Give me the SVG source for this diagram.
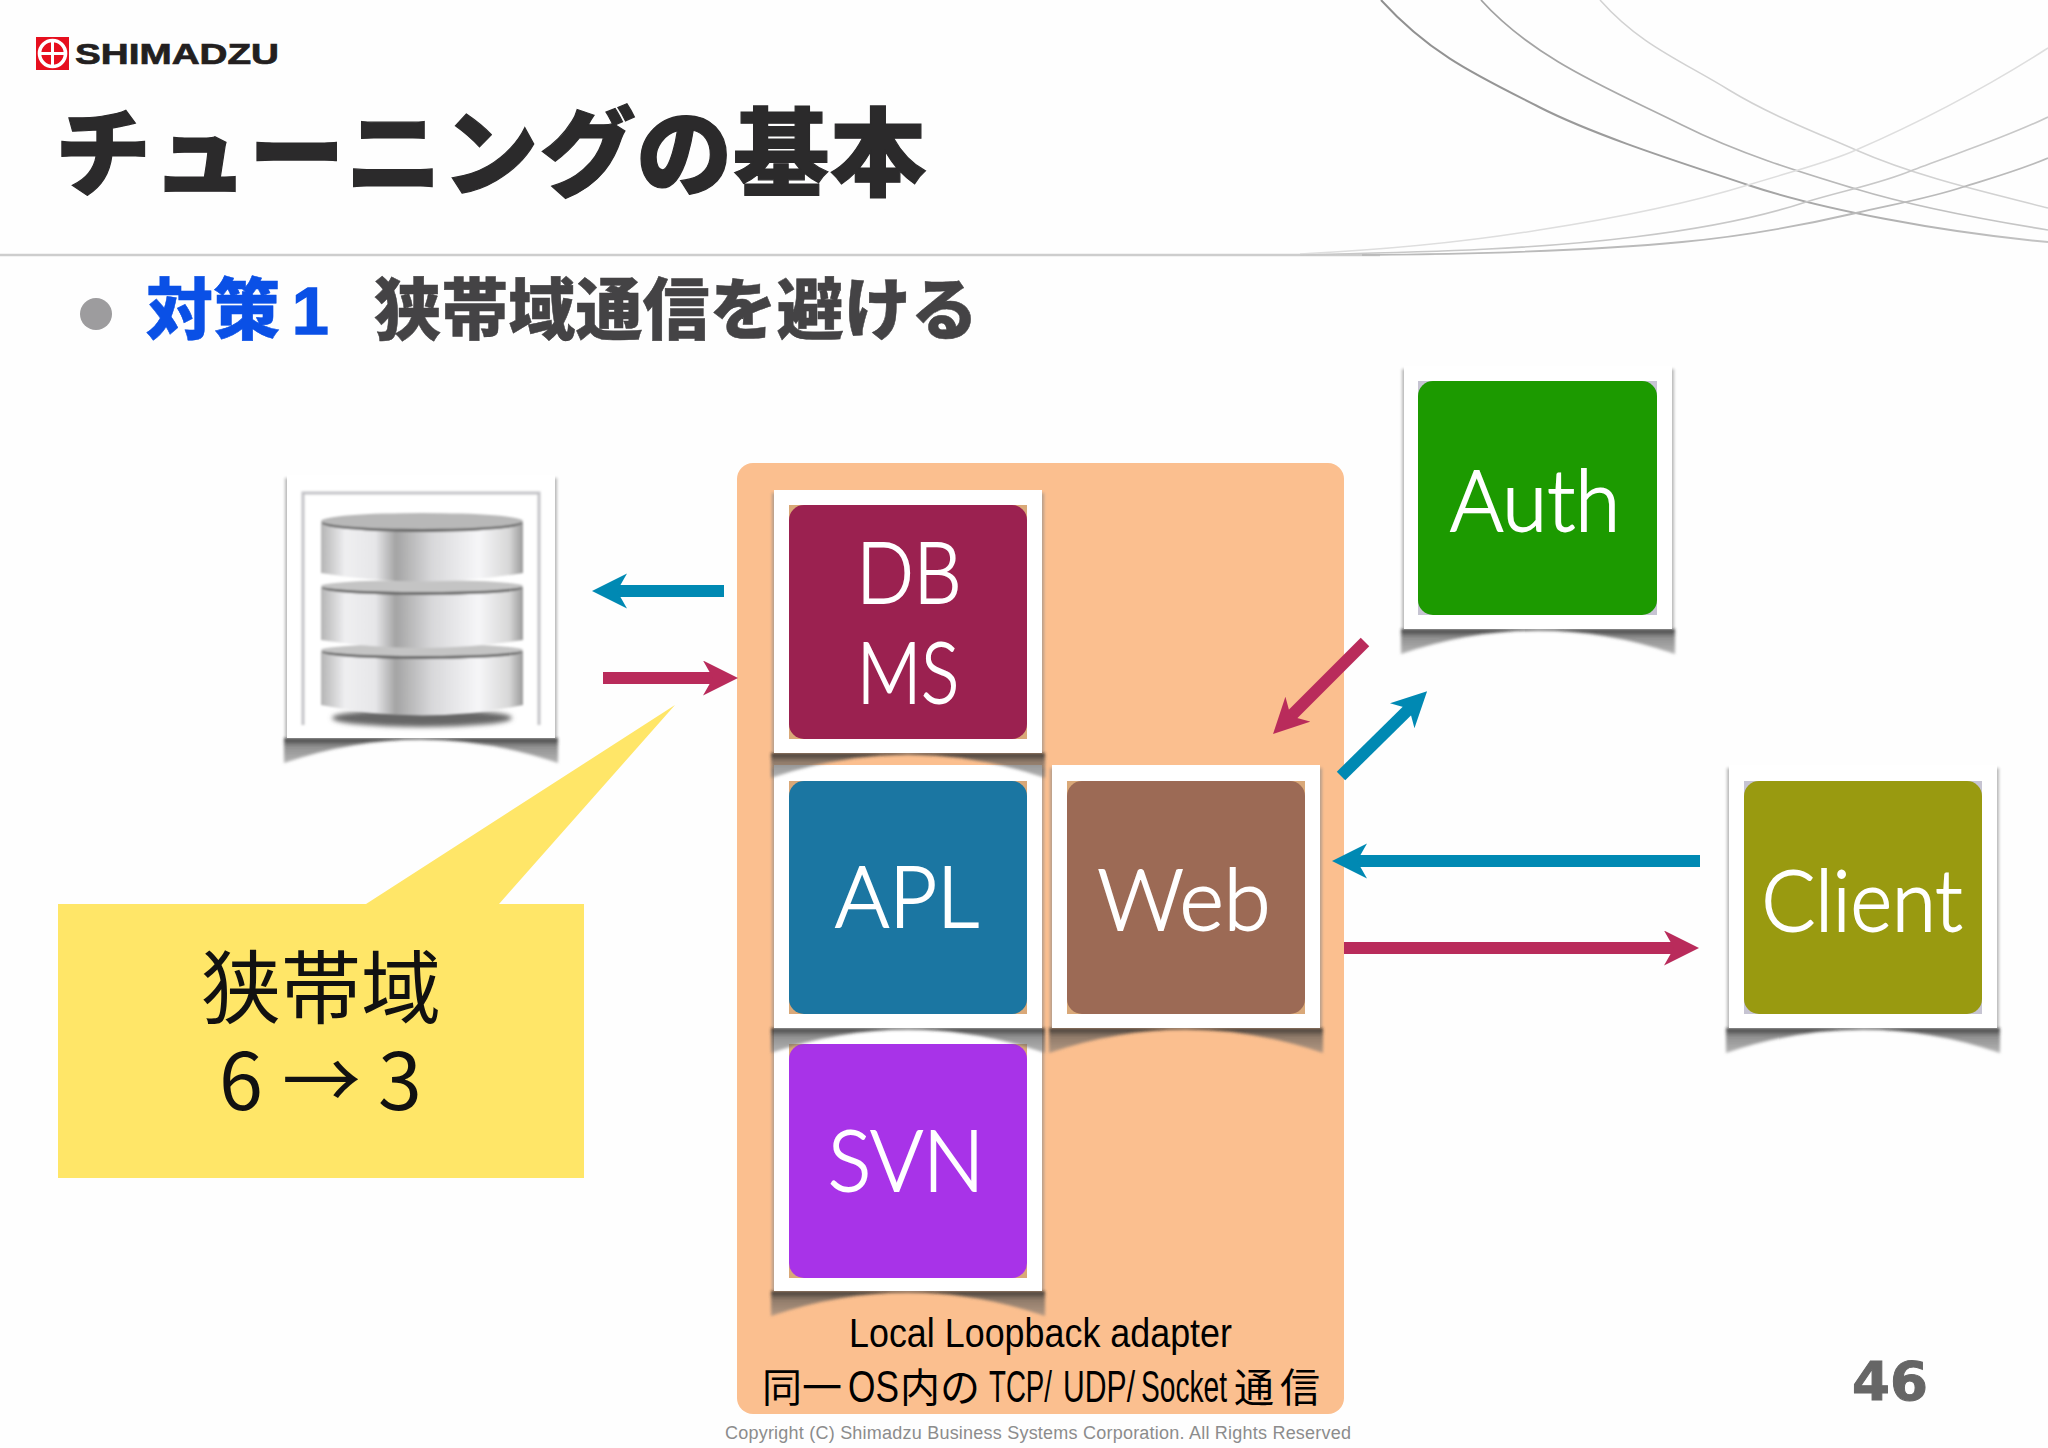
<svg xmlns="http://www.w3.org/2000/svg" width="2048" height="1448" viewBox="0 0 2048 1448">
<style>
.jp{font-family:"Noto Sans CJK JP","Liberation Sans",sans-serif}
.frame{fill:#fff}
.halo{fill:#8a8a8a;opacity:.6;filter:url(#soft)}
.shade{fill:url(#shadeGrad);filter:url(#soft)}
.tan{fill:#d9a878}
.lav{fill:#c6c4d2}
.lbl{font-family:Lato,"Liberation Sans",sans-serif;font-weight:300;fill:#fff;stroke:#fff;stroke-width:1.8}
.nar{font-family:"Liberation Sans",sans-serif;font-size:44px}
.link{stroke-width:12;fill:none}
.blue{stroke:#0089b3;marker-end:url(#headBlue)}
.red{stroke:#b92b5b;marker-end:url(#headRed)}
.swoosh{fill:none}
.ring{fill:url(#disc)}
</style>
<defs>
<filter id="soft" x="-10%" y="-30%" width="120%" height="160%"><feGaussianBlur stdDeviation="1.6"/></filter>
<filter id="soft1" x="-5%" y="-5%" width="110%" height="110%"><feGaussianBlur stdDeviation=".8"/></filter>
<filter id="soft2" x="-20%" y="-100%" width="140%" height="300%"><feGaussianBlur stdDeviation="2.5"/></filter>
<linearGradient id="shadeGrad" x1="0" y1="0" x2="0" y2="1"><stop offset="0" stop-color="#222" stop-opacity=".9"/><stop offset=".35" stop-color="#555" stop-opacity=".65"/><stop offset="1" stop-color="#777" stop-opacity=".55"/></linearGradient>
<linearGradient id="disc" x1="0" y1="0" x2="1" y2="0"><stop offset="0" stop-color="#b4b4b4"/><stop offset=".12" stop-color="#efeff1"/><stop offset=".27" stop-color="#e6e6e8"/><stop offset=".37" stop-color="#a4a4a4"/><stop offset=".55" stop-color="#d8d8da"/><stop offset=".78" stop-color="#f6f6f8"/><stop offset=".93" stop-color="#d8d8d8"/><stop offset="1" stop-color="#9a9a9a"/></linearGradient>
<linearGradient id="fadeA" gradientUnits="userSpaceOnUse" x1="1381" y1="0" x2="2048" y2="0"><stop offset="0" stop-color="#8f8f8f"/><stop offset=".6" stop-color="#a5a5a5"/><stop offset="1" stop-color="#c4c4c4"/></linearGradient>
<linearGradient id="fadeB" gradientUnits="userSpaceOnUse" x1="1481" y1="0" x2="2048" y2="0"><stop offset="0" stop-color="#a0a0a0"/><stop offset="1" stop-color="#c8c8c8"/></linearGradient>
<marker id="headBlue" markerUnits="userSpaceOnUse" markerWidth="36" markerHeight="36" refX="11" refY="17.5" orient="auto"><path d="M0,0 L35,17.5 L0,35 L10,17.5 Z" fill="#0089b3"/></marker>
<marker id="headRed" markerUnits="userSpaceOnUse" markerWidth="36" markerHeight="36" refX="11" refY="17.5" orient="auto"><path d="M0,0 L35,17.5 L0,35 L10,17.5 Z" fill="#b92b5b"/></marker>
<g id="base"><rect class="halo" x="-2" y="3" width="272" height="260"/><path class="shade" d="M-3,263 H271 V288 Q134,241 -3,288 Z"/><rect class="frame" width="268" height="263"/></g>
</defs>
<rect width="2048" height="1448" fill="#fefefe"/>

<g id="background-lines">
<path d="M0,255 H1380" stroke="#cdcdcd" stroke-width="2.4" fill="none"/>
<path class="swoosh" stroke="url(#fadeA)" stroke-width="2" d="M1381,0 C1431,55 1478,76 1539,107 C1600,138 1695,167 1748,185 C1820,209 1940,232 2048,242"/>
<path class="swoosh" stroke="url(#fadeB)" stroke-width="1.7" d="M1481,0 C1535,60 1612,90 1682,125 C1740,154 1800,172 1856,189 C1912,206 1980,219 2048,230"/>
<path class="swoosh" stroke="#d2d2d2" stroke-width="1.5" d="M1600,0 C1640,45 1680,60 1729,90 C1770,115 1815,132 1856,150 C1920,178 1990,193 2048,208"/>
<path class="swoosh" stroke="#dedede" stroke-width="1.5" d="M1300,254 C1380,250 1460,243 1539,230 C1610,219 1680,206 1748,185 C1790,172 1830,162 1856,150 C1925,120 1990,85 2048,48"/>
<path class="swoosh" stroke="#c8c8c8" stroke-width="1.6" d="M1300,255 C1420,252 1530,250 1634,237 C1700,229 1755,219 1806,202 C1845,190 1880,184 1913,170 C1960,152 2005,138 2048,117"/>
<path class="swoosh" stroke="#bababa" stroke-width="1.8" d="M1362,255 C1480,254 1590,251 1682,242 C1745,236 1800,226 1856,213 C1895,204 1930,198 1963,187 C1995,177 2020,170 2048,158"/>
</g>

<g id="logo">
<rect x="36" y="37" width="33" height="33" fill="#e60f1e"/>
<circle cx="52.5" cy="53.5" r="13" fill="#e60f1e" stroke="#fff" stroke-width="3.6"/>
<path d="M38,53.5 H67 M52.5,40 V67" stroke="#fff" stroke-width="3"/>
<text x="75" y="64" font-family="Liberation Sans" font-weight="700" font-size="29" fill="#231f20" stroke="#231f20" stroke-width=".7" textLength="204" lengthAdjust="spacingAndGlyphs">SHIMADZU</text>
</g>

<text id="title" class="jp" x="55" y="188" font-size="96" font-weight="900" fill="#2b2a2b" stroke="#2b2a2b" stroke-width="1.2" textLength="871">チューニングの基本</text>

<g id="subtitle">
<ellipse cx="96" cy="314" rx="16" ry="16" fill="#9d9c9e"/>
<text class="jp" x="146" y="334" font-size="67" font-weight="900" fill="#0a50e6" stroke="#0a50e6" stroke-width=".5">対策</text>
<text x="292" y="334" font-family="Liberation Sans" font-weight="700" font-size="66" fill="#0a50e6" stroke="#0a50e6" stroke-width="1.5">1</text>
<text class="jp" x="374" y="334" font-size="67" font-weight="900" fill="#444345" stroke="#444345" stroke-width=".5" textLength="604">狭帯域通信を避ける</text>
</g>

<g id="panel">
<rect x="737" y="463" width="607" height="951" rx="16" fill="#fbbf8f"/>
</g>

<g id="callout">
<path d="M58,904 H366 L675,705 L499,904 H584 V1178 H58 Z" fill="#ffe668"/>
<text class="jp" x="321" y="1017" font-size="80" text-anchor="middle" fill="#111">狭帯域</text>
<text class="jp" y="1110" font-size="79" fill="#111"><tspan x="219">6</tspan><tspan x="282">→</tspan><tspan x="378">3</tspan></text>
</g>

<g id="node-database">
<use href="#base" x="287" y="475"/>
<path d="M303,725 V493 H539 V725" fill="none" stroke="#c4c4c8" stroke-width="3" filter="url(#soft1)"/>
<path d="M303,492.500 H539" stroke="#a4a4a8" stroke-width="3" filter="url(#soft1)"/>
<ellipse cx="422" cy="718" rx="90" ry="9" fill="#666" filter="url(#soft2)"/>
<g filter="url(#soft1)">
<path class="ring" d="M321,651 H523 V705 Q422,726 321,705 Z"/>
<ellipse cx="422" cy="652" rx="100" ry="7" fill="#666"/>
<ellipse cx="422" cy="650" rx="101" ry="6" fill="#c4c4c4"/>
<path class="ring" d="M321,587 H523 V640 Q422,656 321,640 Z"/>
<ellipse cx="422" cy="588" rx="100" ry="7" fill="#666"/>
<ellipse cx="422" cy="586" rx="101" ry="6" fill="#c4c4c4"/>
<path class="ring" d="M321,522 H523 V573 Q422,590 321,573 Z"/>
<ellipse cx="422" cy="523" rx="100" ry="9" fill="#666"/>
<ellipse cx="422" cy="521" rx="101" ry="8" fill="#b8b8b8"/>
</g>
</g>

<g id="node-svn">
<use href="#base" x="774" y="1028"/>
<rect class="tan" x="789" y="1044" width="238" height="234"/>
<rect x="789" y="1044" width="238" height="234" rx="15" fill="#a833e8"/>
<text class="lbl" x="906" y="1191" font-size="84" text-anchor="middle" textLength="156" lengthAdjust="spacingAndGlyphs">SVN</text>
</g>
<g id="node-apl">
<use href="#base" x="774" y="765"/>
<rect class="tan" x="789" y="781" width="238" height="233"/>
<rect x="789" y="781" width="238" height="233" rx="15" fill="#1b76a2"/>
<text class="lbl" x="907" y="927" font-size="84" text-anchor="middle" textLength="144" lengthAdjust="spacingAndGlyphs">APL</text>
</g>
<g id="node-dbms">
<use href="#base" x="774" y="490"/>
<rect class="tan" x="789" y="505" width="238" height="234"/>
<rect x="789" y="505" width="238" height="234" rx="15" fill="#9b2150"/>
<text class="lbl" x="909" y="603" font-size="84" text-anchor="middle" textLength="105" lengthAdjust="spacingAndGlyphs">DB</text>
<text class="lbl" x="908" y="703" font-size="84" text-anchor="middle" textLength="102" lengthAdjust="spacingAndGlyphs">MS</text>
</g>
<g id="node-web">
<use href="#base" x="1052" y="765"/>
<rect class="tan" x="1067" y="781" width="238" height="233"/>
<rect x="1067" y="781" width="238" height="233" rx="15" fill="#9c6a55"/>
<text class="lbl" x="1184" y="930" font-size="84" text-anchor="middle" textLength="173" lengthAdjust="spacingAndGlyphs">Web</text>
</g>
<g id="node-auth">
<use href="#base" x="1404" y="366"/>
<rect class="lav" x="1418" y="381" width="239" height="234"/>
<rect x="1418" y="381" width="239" height="234" rx="15" fill="#1c9a00"/>
<text class="lbl" x="1535" y="531" font-size="84" text-anchor="middle" textLength="170" lengthAdjust="spacingAndGlyphs">Auth</text>
</g>
<g id="node-client">
<use href="#base" x="1729" y="765"/>
<rect class="lav" x="1744" y="781" width="238" height="233"/>
<rect x="1744" y="781" width="238" height="233" rx="15" fill="#999a10"/>
<text class="lbl" x="1862" y="931" font-size="84" text-anchor="middle" textLength="201" lengthAdjust="spacingAndGlyphs">Client</text>
</g>

<g id="connectors">
<line class="link blue" x1="724" y1="591" x2="616" y2="591"/>
<line class="link red" x1="603" y1="678" x2="714" y2="678"/>
<line class="link red" x1="1365" y1="642" x2="1290" y2="717"/>
<line class="link blue" x1="1341" y1="776" x2="1410" y2="708"/>
<line class="link blue" x1="1700" y1="861" x2="1356" y2="861"/>
<line class="link red" x1="1344" y1="948" x2="1675" y2="948"/>
</g>

<g id="panel-text">
<text x="849" y="1347" font-family="Liberation Sans" font-size="40" fill="#000" textLength="383" lengthAdjust="spacingAndGlyphs">Local Loopback adapter</text>
<text class="jp" y="1402" font-size="40" fill="#000"><tspan x="762">同一</tspan><tspan x="848" class="nar" textLength="51" lengthAdjust="spacingAndGlyphs">OS</tspan><tspan x="900">内の</tspan><tspan x="989" class="nar" textLength="63" lengthAdjust="spacingAndGlyphs">TCP/</tspan><tspan x="1063" class="nar" textLength="72" lengthAdjust="spacingAndGlyphs">UDP/</tspan><tspan x="1141" class="nar" textLength="86" lengthAdjust="spacingAndGlyphs">Socket</tspan><tspan x="1234" letter-spacing="6">通信</tspan></text>
</g>

<text id="page-number" x="1852" y="1400" font-family="DejaVu Sans" font-weight="700" font-size="54" fill="#666" stroke="#666" stroke-width="1" textLength="76" lengthAdjust="spacingAndGlyphs">46</text>
<text id="copyright" x="725" y="1439" font-family="Liberation Sans" font-size="18" fill="#8c8c8c" textLength="626" lengthAdjust="spacing">Copyright (C) Shimadzu Business Systems Corporation. All Rights Reserved</text>
</svg>
